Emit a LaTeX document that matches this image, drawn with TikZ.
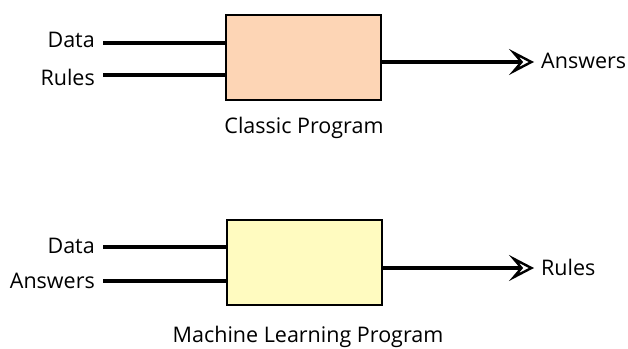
\documentclass[tikz,border=0pt]{standalone}
\usepackage{fontspec}
\setmainfont{Open Sans}
\usetikzlibrary{arrows.meta}
\definecolor{peach}{HTML}{FDD5B5}
\definecolor{paleyellow}{HTML}{FFFBC0}
\begin{document}
\begin{tikzpicture}[x=1pt,y=-1pt,
  prog/.style={draw=black,line width=2pt,minimum width=155pt,minimum height=85pt,inner sep=0pt},
  wire/.style={line width=4pt},
  outwire/.style={line width=4pt,-{Stealth[open,length=25pt,width=26pt,line width=2.4pt,inset=11pt]}},
  lbl/.style={font=\fontsize{21.5}{24}\selectfont,inner sep=0pt},
  captext/.style={font=\fontsize{21.5}{24}\selectfont,inner sep=0pt}]
\useasboundingbox (0,0) rectangle (628,348);
% classic program
\node[prog,fill=peach] (cp) at (303.5,57.5) {};
\node[lbl,anchor=east] (d1) at (95,40) {Data};
\node[lbl,anchor=east] (r1) at (95,77) {Rules};
\node[lbl,anchor=west] (a1) at (541,61) {Answers};
\node[captext] (c1) at (304,128) {Classic Program};
\coordinate (d1s) at (103,43);
\coordinate (r1s) at (103,75);
\draw[wire] (d1s) -- (d1s -| cp.west);
\draw[wire] (r1s) -- (r1s -| cp.west);
\draw[outwire] (cp.east |- 0,62) -- ([xshift=-7pt]a1.west |- 0,62);
% machine learning program
\node[prog,fill=paleyellow] (ml) at (304,262.5) {};
\node[lbl,anchor=east] (d2) at (95,246) {Data};
\node[lbl,anchor=east] (a2) at (95,281) {Answers};
\node[lbl,anchor=west] (r2) at (541,267) {Rules};
\node[captext] (c2) at (308,337) {Machine Learning Program};
\coordinate (d2s) at (103,247);
\coordinate (a2s) at (103,281);
\draw[wire] (d2s) -- (d2s -| ml.west);
\draw[wire] (a2s) -- (a2s -| ml.west);
\draw[outwire] (ml.east |- 0,268) -- ([xshift=-7pt]r2.west |- 0,268);
\end{tikzpicture}
\end{document}
